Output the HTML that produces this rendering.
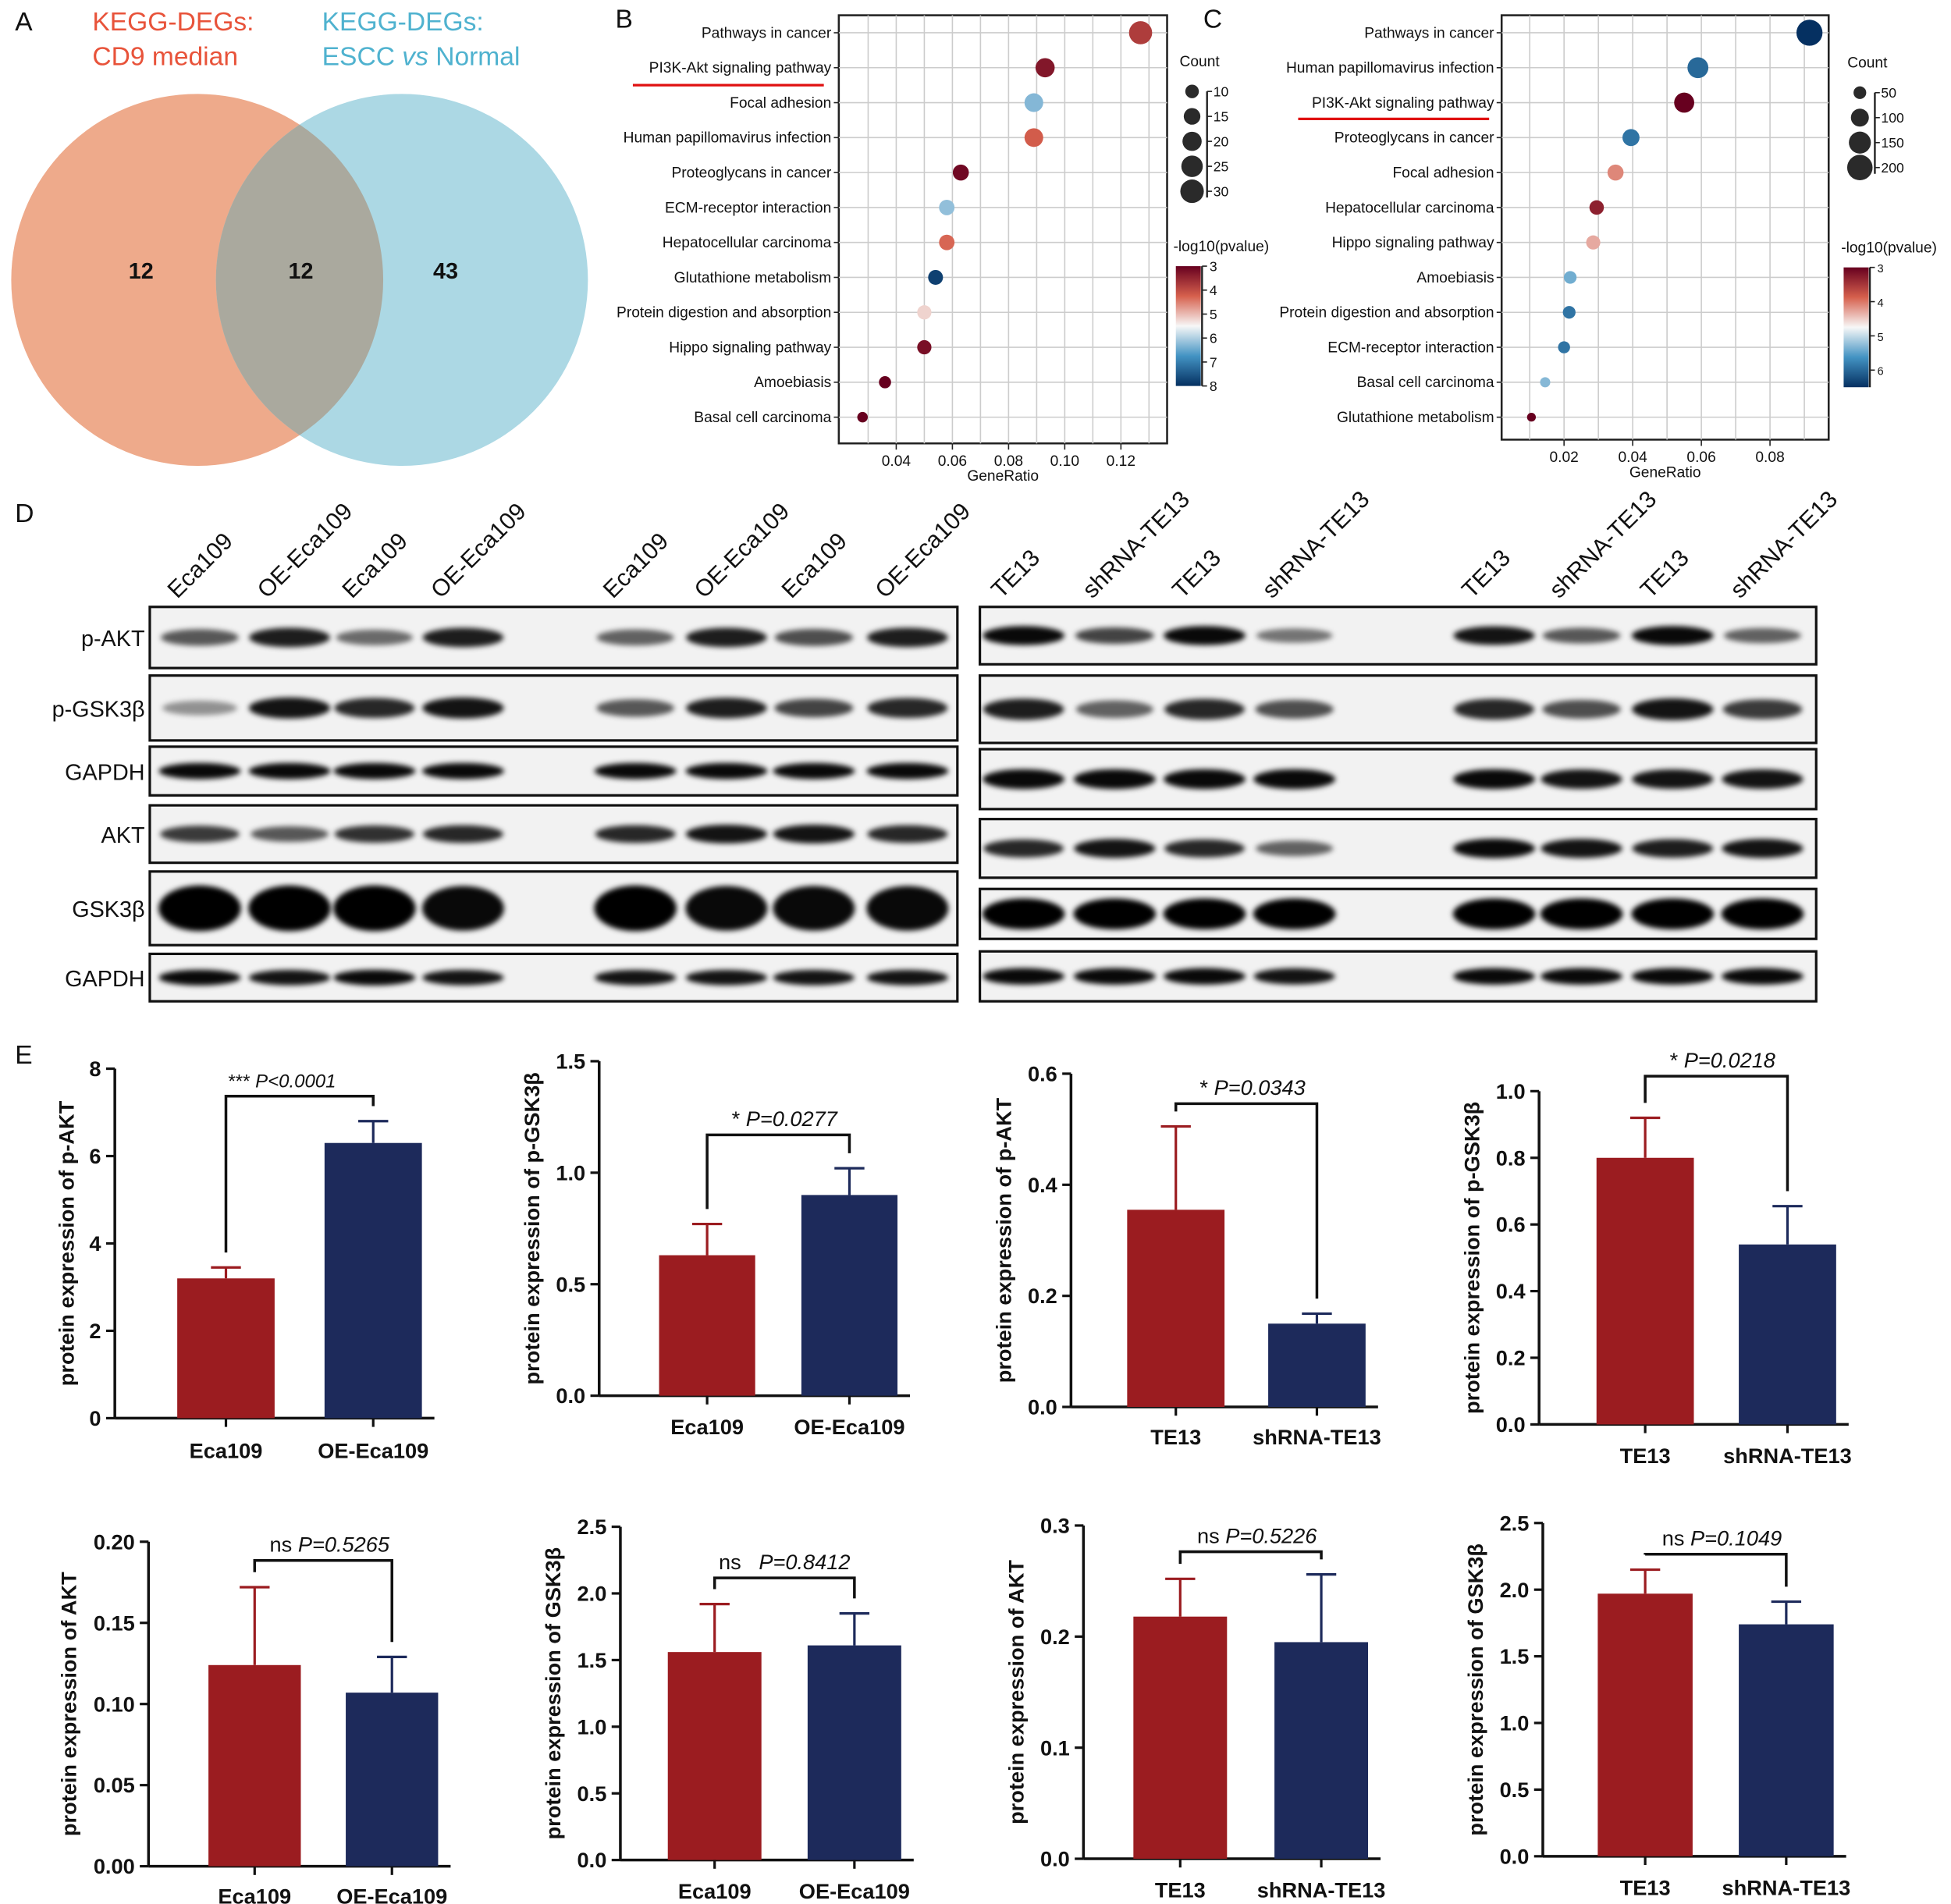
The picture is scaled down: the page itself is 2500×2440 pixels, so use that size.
<!DOCTYPE html>
<html><head><meta charset="utf-8">
<style>
html,body{margin:0;padding:0;background:#fff;}
svg{display:block;font-family:"Liberation Sans",Arial,sans-serif;}
</style></head>
<body>
<svg id="fig" width="2500" height="2440" viewBox="0 0 1563 1525" xmlns="http://www.w3.org/2000/svg">
<defs>
<filter id="blur" x="-20%" y="-50%" width="140%" height="200%"><feGaussianBlur stdDeviation="2.2"/></filter>
<linearGradient id="gradB" x1="0" y1="0" x2="0" y2="1">
<stop offset="0" stop-color="#67001f"/><stop offset="0.25" stop-color="#d6604d"/><stop offset="0.5" stop-color="#f7f7f7"/><stop offset="0.75" stop-color="#4393c3"/><stop offset="1" stop-color="#053061"/>
</linearGradient>
</defs>
<g id="root"></g>
</svg>
<script>
// ---------- Panel B data ----------
const bTerms=["Pathways in cancer","PI3K-Akt signaling pathway","Focal adhesion","Human papillomavirus infection","Proteoglycans in cancer","ECM-receptor interaction","Hepatocellular carcinoma","Glutathione metabolism","Protein digestion and absorption","Hippo signaling pathway","Amoebiasis","Basal cell carcinoma"];
const bRatio=[0.127,0.093,0.089,0.089,0.063,0.058,0.058,0.054,0.050,0.050,0.036,0.028];
const bCount=[29,20,19,19,14,13,13,12,11,11,8,6];
const bLogP=[3.8,3.3,6.3,4.2,3.1,6.2,4.3,7.8,5.2,3.2,3.0,3.0];
const bTicks=[0.04,0.06,0.08,0.10,0.12];
// ---------- Panel C data ----------
const cTerms=["Pathways in cancer","Human papillomavirus infection","PI3K-Akt signaling pathway","Proteoglycans in cancer","Focal adhesion","Hepatocellular carcinoma","Hippo signaling pathway","Amoebiasis","Protein digestion and absorption","ECM-receptor interaction","Basal cell carcinoma","Glutathione metabolism"];
const cRatio=[0.0915,0.059,0.055,0.0395,0.035,0.0295,0.0285,0.0218,0.0215,0.020,0.0145,0.0105];
const cCount=[210,135,125,90,80,65,62,50,50,45,32,24];
const cLogP=[6.5,6.0,3.0,5.9,4.1,3.3,4.3,5.4,5.9,5.9,5.3,3.0];
const cTicks=[0.02,0.04,0.06,0.08];
// ---------- Panel E data ----------
const eLabelsA=["Eca109","OE-Eca109"];
const eLabelsB=["TE13","shRNA-TE13"];
const eMeans=[[3.2,6.3],[0.63,0.90],[0.355,0.15],[0.80,0.54],[0.124,0.107],[1.56,1.61],[0.218,0.195],[1.97,1.74]];
const eErr=[[0.25,0.5],[0.14,0.12],[0.15,0.018],[0.12,0.115],[0.048,0.022],[0.36,0.24],[0.034,0.061],[0.18,0.17]];
const eYmax=[8,1.5,0.6,1.0,0.20,2.5,0.3,2.5];
const eStep=[2,0.5,0.2,0.2,0.05,0.5,0.1,0.5];
const eDec=[0,1,1,1,2,1,1,1];
const eTitles=["p-AKT","p-GSK3β","p-AKT","p-GSK3β","AKT","GSK3β","AKT","GSK3β"];
const eSig=["*** ","* ","* ","* ","ns ","ns   ","ns ","ns "];
const eP=["P<0.0001","P=0.0277","P=0.0343","P=0.0218","P=0.5265","P=0.8412","P=0.5226","P=0.1049"];
// ---------- Panel D data (band intensity 0-1, width scale) ----------
const dRowNames=["p-AKT","p-GSK3β","GAPDH","AKT","GSK3β","GAPDH"];
const dLeft=[[0.55,0.85,0.45,0.85,0.5,0.85,0.6,0.85],[0.25,0.9,0.8,0.9,0.55,0.85,0.65,0.8],[0.95,0.95,0.95,0.95,0.95,0.95,0.95,0.95],[0.7,0.55,0.75,0.8,0.8,0.9,0.9,0.8],[1,1,1,0.95,1,0.95,0.95,0.95],[0.95,0.9,0.95,0.9,0.9,0.9,0.9,0.9]];
const dRight=[[0.95,0.65,0.95,0.4,0.9,0.55,0.95,0.5],[0.85,0.5,0.8,0.6,0.8,0.6,0.9,0.7],[0.95,0.95,0.95,0.95,0.95,0.9,0.9,0.9],[0.8,0.9,0.8,0.5,0.95,0.9,0.85,0.9],[1,1,1,1,1,1,1,1],[0.95,0.95,0.95,0.9,0.95,0.95,0.95,0.95]];

const NS="http://www.w3.org/2000/svg";
const root=document.getElementById('root');
function el(tag,attrs,parent,text){const e=document.createElementNS(NS,tag);for(const k in attrs)e.setAttribute(k,attrs[k]);if(text!==undefined)e.textContent=text;(parent||root).appendChild(e);return e;}
function grp(name,parent){const g=el('g',{},parent);return g;}
function txt(p,x,y,s,size,o){o=o||{};const t=el('text',Object.assign({x:x,y:y,'font-size':size,fill:'#111'},o),p,s);return t;}

// panel letters
[["A",12,24],["B",493,22],["C",964,22],["D",12,418],["E",12,852]].forEach(a=>{const t=txt(root,a[1],a[2],a[0],21,{});});

// ---------- Panel A Venn ----------
(function(){
const g=grp('venn-diagram');
const l=el('circle',{cx:158,cy:224,r:149,fill:'#eeaa8b'},g);
const r=el('circle',{cx:322,cy:224,r:149,fill:'#acd8e4'},g);
el('clipPath',{id:'clipL'},g).appendChild(el('circle',{cx:158,cy:224,r:149},g));
const ov=el('circle',{cx:322,cy:224,r:149,fill:'#aaa99e','clip-path':'url(#clipL)'},g);
const t1=txt(g,74,24,"KEGG-DEGs:",21,{fill:'#e8533a'});
txt(g,74,52,"CD9 median",21,{fill:'#e8533a'});
const t2=txt(g,258,24,"KEGG-DEGs:",21,{fill:'#4fb2cf'});
const t3=el('text',{x:258,y:52,'font-size':21,fill:'#4fb2cf'},g);t3.innerHTML='ESCC <tspan font-style="italic">vs</tspan> Normal';
[[113,"12"],[241,"12"],[357,"43"]].forEach((a,i)=>{const t=txt(g,a[0],223,a[1],18,{'font-weight':'bold','text-anchor':'middle'});});
})();

// ---------- Color scale ----------
const stops=[[0,[103,0,31]],[0.25,[214,96,77]],[0.5,[247,247,247]],[0.75,[67,147,195]],[1,[5,48,97]]];
function cmap(t){t=Math.max(0,Math.min(1,t));for(let i=0;i<stops.length-1;i++){const a=stops[i],b=stops[i+1];if(t<=b[0]){const f=(t-a[0])/(b[0]-a[0]);const c=a[1].map((v,k)=>Math.round(v+(b[1][k]-v)*f));return `rgb(${c})`;}}return 'rgb(5,48,97)';}

// ---------- Dot plots ----------
function dotplot(o){
const g=grp(o.name);
const x=v=>o.x0+(v-o.t0)/o.dt*o.px;
const frame=el('rect',{x:o.L,y:o.T,width:o.R-o.L,height:o.B-o.T,fill:'none',stroke:'#222','stroke-width':1.6},g);

const rowY=i=>26+i*28;
// grid
for(let v=o.t0-o.dt;v<=o.tmax+1e-9;v+=o.dt/2){const xx=x(v);if(xx>o.L+2&&xx<o.R-2)el('line',{x1:xx,x2:xx,y1:o.T,y2:o.B,stroke:'#ccc','stroke-width':1},g);}
o.terms.forEach((t,i)=>{el('line',{x1:o.L,x2:o.R,y1:rowY(i),y2:rowY(i),stroke:'#ccc','stroke-width':1},g);
const lt=txt(g,o.L-6,rowY(i)+4,t,12,{'text-anchor':'end'});
el('line',{x1:o.L-4,x2:o.L,y1:rowY(i),y2:rowY(i),stroke:'#222'},g);});
o.ticks.forEach(v=>{const xx=x(v);el('line',{x1:xx,x2:xx,y1:o.B,y2:o.B+5,stroke:'#222'},g);const tl=txt(g,xx,o.B+18,v.toFixed(2),12,{'text-anchor':'middle'});});
const xt=txt(g,(o.L+o.R)/2,o.B+30,"GeneRatio",12,{'text-anchor':'middle'});
o.ratio.forEach((v,i)=>{const c=el('circle',{cx:x(v),cy:rowY(i),r:o.rf(o.count[i]),fill:cmap((o.lp[i]-o.pmin)/(o.pmax-o.pmin))},g);});
// highlight underline
el('line',{x1:o.ulx1,x2:o.ulx2,y1:o.uly,y2:o.uly,stroke:'#e01010','stroke-width':2},g);
// size legend
const lg=grp('count-legend',g);
txt(lg,o.lx-10,o.cy0-20,"Count",12,{});
el('line',{x1:o.lx+12,x2:o.lx+12,y1:o.cy0,y2:o.cy0+o.sizes.length*20-15,stroke:'#222','stroke-width':1.5},lg);
o.sizes.forEach((s,i)=>{const yy=o.cy0+i*20;el('circle',{cx:o.lx,cy:yy,r:o.rf(s),fill:'#2a2a2a'},lg);el('line',{x1:o.lx+12,x2:o.lx+16,y1:yy,y2:yy,stroke:'#222'},lg);txt(lg,o.lx+17,yy+4,String(s),11,{});});
// color legend
const cg=grp('pvalue-colorbar',g);
txt(cg,o.lx-15,o.gy0-12,"-log10(pvalue)",12,{});
el('rect',{x:o.lx-13,y:o.gy0,width:20,height:o.gh,fill:'url(#gradB)'},cg);
el('line',{x1:o.lx+8,x2:o.lx+8,y1:o.gy0,y2:o.gy0+o.gh,stroke:'#222','stroke-width':1.5},cg);
o.gt.forEach(v=>{const yy=o.gy0+(v-o.pmin)/(o.pmax-o.pmin)*o.gh;el('line',{x1:o.lx+8,x2:o.lx+12,y1:yy,y2:yy,stroke:'#222'},cg);txt(cg,o.lx+14,yy+4,String(v),o.gfs,{});});
}
dotplot({name:'dotplot-b',terms:bTerms,ratio:bRatio,count:bCount,lp:bLogP,ticks:bTicks,L:672,R:935,T:12,B:355,x0:718,t0:0.04,dt:0.02,px:45,tmax:0.13,pmin:3,pmax:8,rf:c=>Math.sqrt(c)*1.72,
ulx1:507,ulx2:660,uly:68,lx:955,cy0:73,sizes:[10,15,20,25,30],gy0:213,gh:96,gt:[3,4,5,6,7,8],gfs:11});
dotplot({name:'dotplot-c',terms:cTerms,ratio:cRatio,count:cCount,lp:cLogP,ticks:cTicks,L:1203,R:1465,T:12,B:352,x0:1253,t0:0.02,dt:0.02,px:55,tmax:0.09,pmin:3,pmax:6.5,rf:c=>Math.sqrt(c)*0.72,
ulx1:1040,ulx2:1193,uly:95,lx:1490,cy0:74,sizes:[50,100,150,200],gy0:214,gh:96,gt:[3,4,5,6],gfs:9});

// ---------- Panel D blots ----------
(function(){
const g=grp('western-blot');
const leftX=[160,232,300,371,509,582,652,727],rightX=[820,893,965,1037,1197,1267,1340,1412];
const leftL=["Eca109","OE-Eca109","Eca109","OE-Eca109","Eca109","OE-Eca109","Eca109","OE-Eca109"];
const rightL=["TE13","shRNA-TE13","TE13","shRNA-TE13","TE13","shRNA-TE13","TE13","shRNA-TE13"];
const lRows=[[486,535],[541,593],[598,637],[645,691],[698,757],[764,802]];
const rRows=[[486,532],[541,595],[600,648],[656,703],[712,752],[762,802]];
[[leftX,leftL],[rightX,rightL]].forEach(s=>s[0].forEach((xx,i)=>{const t=txt(g,xx-18,480,s[1][i],19,{transform:`rotate(-45 ${xx-18} 480)`});}));
function block(x1,x2,rows,lanes,vals){rows.forEach((r,ri)=>{el('rect',{x:x1,y:r[0],width:x2-x1,height:r[1]-r[0],fill:'#f2f2f2',stroke:'#111','stroke-width':2},g);
const h=r[1]-r[0];lanes.forEach((lx,li)=>{const v=vals[ri][li];const bh=(ri===4?0.62:0.34)*h*(0.55+0.45*v);
const b=el('ellipse',{cx:lx,cy:(r[0]+r[1])/2,rx:29+4*v,ry:bh/2,fill:'#000','fill-opacity':0.2+0.8*v,filter:'url(#blur)'},g);});});}
block(120,767,lRows,leftX,dLeft);block(785,1455,rRows,rightX,dRight);
lRows.forEach((r,i)=>{const t=txt(g,116,(r[0]+r[1])/2+7,dRowNames[i],18,{'text-anchor':'end'});});
})();

// ---------- Panel E bar charts ----------
const eGeom=[
{ax:92,y0:1136,yt:856,b1:142,b2:260,bw:78,ly:1162,by:878},
{ax:480,y0:1118,yt:850,b1:528,b2:642,bw:77,ly:1143,by:909},
{ax:858,y0:1127,yt:860,b1:903,b2:1016,bw:78,ly:1151,by:884},
{ax:1233,y0:1141,yt:874,b1:1279,b2:1393,bw:78,ly:1166,by:862},
{ax:119,y0:1495,yt:1235,b1:167,b2:277,bw:74,ly:1519,by:1250},
{ax:497,y0:1490,yt:1223,b1:535,b2:647,bw:75,ly:1515,by:1264},
{ax:868,y0:1489,yt:1222,b1:908,b2:1021,bw:75,ly:1514,by:1243},
{ax:1236,y0:1487,yt:1220,b1:1280,b2:1393,bw:76,ly:1512,by:1245}];
eGeom.forEach((G,k)=>{
const g=grp('bar-chart-'+(k+1));
const y=v=>G.y0-(v/eYmax[k])*(G.y0-G.yt);
const labels=(k%2===0&&k<4)||k===4||k===5?eLabelsA:eLabelsB;
const lab=[eLabelsA,eLabelsA,eLabelsB,eLabelsB,eLabelsA,eLabelsA,eLabelsB,eLabelsB][k];
const xr=G.b2+G.bw+10;
el('line',{x1:G.ax,x2:G.ax,y1:G.yt,y2:G.y0,stroke:'#111','stroke-width':2.2},g);
el('line',{x1:G.ax,x2:xr,y1:G.y0,y2:G.y0,stroke:'#111','stroke-width':2.2},g);
const n=Math.round(eYmax[k]/eStep[k]);
for(let i=0;i<=n;i++){const v=i*eStep[k];const yy=y(v);el('line',{x1:G.ax-7,x2:G.ax,y1:yy,y2:yy,stroke:'#111','stroke-width':2},g);
const t=txt(g,G.ax-11,yy+6,v.toFixed(eDec[k]),17,{'text-anchor':'end','font-weight':'bold'});}
const ymid=(G.y0+G.yt)/2,tx=G.ax-(eDec[k]===2?58:eDec[k]===0?33:48);
const yt=txt(g,tx,ymid,"protein expression of "+eTitles[k],17,{'text-anchor':'middle','font-weight':'bold',transform:`rotate(-90 ${tx} ${ymid})`});

const bx=[G.b1,G.b2],col=['#9b1c20','#1d2a5b'];
const tops=[];
[0,1].forEach(j=>{const m=eMeans[k][j],e=eErr[k][j];const cx=bx[j]+G.bw/2;
const et=el('line',{x1:cx,x2:cx,y1:y(m),y2:y(m+e),stroke:col[j],'stroke-width':2},g);
el('line',{x1:cx-12,x2:cx+12,y1:y(m+e),y2:y(m+e),stroke:col[j],'stroke-width':2},g);
tops.push(y(m+e));
const r=el('rect',{x:bx[j],y:y(m),width:G.bw,height:G.y0-y(m),fill:col[j]},g);
el('line',{x1:cx,x2:cx,y1:G.y0,y2:G.y0+7,stroke:'#111','stroke-width':2},g);
const xl=txt(g,cx,G.ly+6,lab[j],17,{'text-anchor':'middle','font-weight':'bold'});});
const c1=G.b1+G.bw/2,c2=G.b2+G.bw/2;
const br=el('path',{d:`M${c1},${tops[0]-12} V${G.by} H${c2} V${tops[1]-12}`,fill:'none',stroke:'#111','stroke-width':2.2},g);

const st=el('text',{x:(c1+c2)/2+(k===0?-14:k===5?0:5),y:G.by-7,'font-size':k===0?15:17,'text-anchor':'middle',fill:'#111'},g);
st.innerHTML=eSig[k].replace(/ /g,'&#160;')+'<tspan font-style="italic">'+eP[k]+'</tspan>';

});
</script>
</body></html>
